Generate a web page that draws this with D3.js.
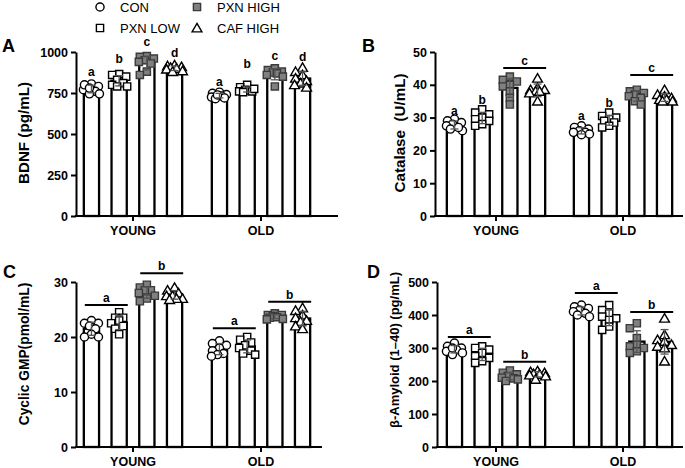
<!DOCTYPE html>
<html><head><meta charset="utf-8">
<script src="https://cdn.jsdelivr.net/npm/d3@7"></script>
<style>
body{margin:0;background:#fff}
svg{display:block}
text{font-family:"Liberation Sans",Arial,sans-serif;fill:#000}
</style>
</head><body>
<svg id="chart" width="685" height="468"></svg>
<script>
// ---------- categories ----------
const ages = ["YOUNG", "OLD"];
const groups = ["CON", "PXN LOW", "PXN HIGH", "CAF HIGH"];

// ---------- tick labels ----------
const ticksA = [0, 250, 500, 750, 1000];
const ticksB = [0, 10, 20, 30, 40, 50];
const ticksC = [0, 10, 20, 30];
const ticksD = [0, 100, 200, 300, 400, 500];

// ---------- series values (individual animals, per group) ----------
// A: BDNF (pg/mL)
const bdnfYoung = [
  [805, 790, 770, 760, 745, 745, 800, 780],
  [865, 860, 850, 830, 810, 800, 790, 790],
  [975, 970, 960, 950, 940, 930, 880, 860],
  [920, 915, 910, 905, 900, 895, 885, 880]
];
const bdnfOld = [
  [755, 748, 740, 732, 725, 720, 715, 738],
  [800, 785, 770, 765, 760, 760, 755, 775],
  [900, 890, 880, 875, 870, 860, 850, 790],
  [905, 880, 860, 840, 825, 810, 800, 785]
];
// B: Catalase (U/mL)
const catYoung = [
  [29.5, 29, 28.5, 28, 27.5, 26.5, 26, 27],
  [32.5, 31.5, 31, 30, 29.5, 29, 28, 27.5],
  [42.5, 41.5, 41, 40, 39.5, 38, 36, 34],
  [42, 39, 38.5, 38.5, 38, 38, 37.5, 35]
];
const catOld = [
  [27.5, 27, 26.5, 26, 25.5, 25.5, 25, 24.8],
  [31.5, 30.5, 30, 29.5, 29, 28.5, 27.5, 27],
  [38.5, 38, 37.5, 37, 36.5, 36, 35, 34],
  [38.5, 37, 36.5, 36, 35.5, 35.5, 35, 35]
];
// C: Cyclic GMP (pmol/mL)
const cgmpYoung = [
  [23, 22.5, 22.5, 22, 21.5, 20.5, 20, 20],
  [24.5, 23.5, 23.5, 23, 22.5, 22, 21.5, 20.5],
  [29.5, 29, 28.5, 28.5, 28, 27.5, 27, 26.5],
  [29, 28.5, 28, 27.5, 27.5, 27, 27, 26.8]
];
const cgmpOld = [
  [19.3, 18.8, 18.5, 18, 17.5, 17, 16.8, 16.5],
  [20, 19.5, 19, 18.5, 18, 17.5, 17, 16.8],
  [24.3, 24, 24, 23.8, 23.6, 23.5, 23.3, 23.2],
  [25.3, 24.8, 24, 23.5, 23, 22.8, 22, 21.5]
];
// D: beta-Amyloid (1-40) (pg/mL)
const abYoung = [
  [315, 305, 300, 295, 290, 285, 280, 300],
  [305, 300, 295, 285, 275, 270, 260, 255],
  [232, 225, 220, 215, 210, 208, 205, 200],
  [230, 228, 225, 222, 220, 218, 215, 205]
];
const abOld = [
  [430, 425, 420, 415, 410, 405, 400, 395],
  [430, 415, 405, 395, 390, 385, 365, 355],
  [375, 360, 330, 310, 305, 300, 290, 285],
  [390, 340, 325, 320, 310, 305, 300, 260]
];

// ---------- significance annotations (letter, level in data units) ----------
const sigLettersA = [["a","b","c","d"], ["a","b","c","d"]];
const sigLevelsA  = [[854, 933, 1037, 970], [790, 905, 951, 945]];
const sigLettersB = [["a","b"], ["a","b"]];
const sigLevelsB  = [[30.8, 34.1], [29.3, 33.2]];
const bracketsB = [["YOUNG", 2, 3, "c", 45.1], ["OLD", 2, 3, "c", 43.0]];
const bracketsC = [["YOUNG", 0, 1, "a", 25.8], ["YOUNG", 2, 3, "b", 31.6],
                   ["OLD", 0, 1, "a", 21.6], ["OLD", 2, 3, "b", 26.4]];
const bracketsD = [["YOUNG", 0, 1, "a", 333], ["YOUNG", 2, 3, "b", 258],
                   ["OLD", 0, 1, "a", 467], ["OLD", 2, 3, "b", 409]];

// ---------- layout ----------
const svg = d3.select("#chart");
const markerStyle = [
  {type: d3.symbolCircle, size: 52, fill: "#fff", stroke: "#000"},
  {type: d3.symbolSquare, size: 52, fill: "#fff", stroke: "#000"},
  {type: d3.symbolSquare, size: 52, fill: "#808080", stroke: "#3a3a3a"},
  {type: d3.symbolTriangle, size: 42, fill: "#fff", stroke: "#000"}
];

const panels = [
  {letter:"A", lx:2, ly:52, young:bdnfYoung, old:bdnfOld, max:1000, ticks:ticksA,
   yTop:52, yBot:216, axX:76, axEnd:338, c0:133, c1:261,
   label:"BDNF (pg/mL)", labX:24, labY:133, labSize:15.2,
   letters:[sigLettersA, sigLevelsA], brackets:[]},
  {letter:"B", lx:362, ly:52, young:catYoung, old:catOld, max:50, ticks:ticksB,
   yTop:52, yBot:216, axX:435, axEnd:683, c0:496, c1:623,
   label:"Catalase  (U/mL)", labX:400, labY:133, labSize:15.2,
   letters:[sigLettersB, sigLevelsB], brackets:bracketsB},
  {letter:"C", lx:3, ly:278, young:cgmpYoung, old:cgmpOld, max:30, ticks:ticksC,
   yTop:282, yBot:447, axX:76, axEnd:322, c0:133, c1:261,
   label:"Cyclic GMP(pmol/mL)", labX:24, labY:354, labSize:13.8,
   letters:null, brackets:bracketsC},
  {letter:"D", lx:367, ly:278, young:abYoung, old:abOld, max:500, ticks:ticksD,
   yTop:282, yBot:447, axX:437, axEnd:683, c0:496, c1:623,
   label:"β-Amyloid (1–40) (pg/mL)", labX:394, labY:350, labSize:13,
   letters:null, brackets:bracketsD}
];

function swarm(vals, y) {
  const order = vals.map((v, i) => i).sort((a, b) => vals[b] - vals[a]);
  const cand = [0, -4, 4, -7, 7, -2, 2, -5, 5, -8, 8];
  const placed = [];
  const off = new Array(vals.length).fill(0);
  order.forEach(i => {
    const py = y(vals[i]);
    let best = 0, bestScore = -Infinity;
    for (const c of cand) {
      let minD = Infinity;
      placed.forEach(p => { minD = Math.min(minD, Math.hypot(p[0] - c, p[1] - py)); });
      if (minD >= 6.5) { best = c; bestScore = Infinity; break; }
      if (minD > bestScore) { bestScore = minD; best = c; }
    }
    off[i] = best;
    placed.push([best, py]);
  });
  return off;
}

panels.forEach(p => {
  const g = svg.append("g");
  const x = d3.scalePoint().domain(ages).range([p.c0, p.c1]);
  const inner = d3.scaleBand().domain(groups).range([-55.4, 55.4])
    .paddingInner(0.45).paddingOuter(0.225);
  const y = d3.scaleLinear().domain([0, p.max]).range([p.yBot, p.yTop]);
  const bw = inner.bandwidth();
  const dataByAge = {YOUNG: p.young, OLD: p.old};

  // bars
  ages.forEach(age => {
    groups.forEach((grp, gi) => {
      const vals = dataByAge[age][gi];
      const m = d3.mean(vals);
      g.append("rect")
        .attr("x", x(age) + inner(grp)).attr("y", y(m))
        .attr("width", bw).attr("height", y(0) - y(m))
        .attr("fill", "#fff").attr("stroke", "#000").attr("stroke-width", 2.3);
    });
  });

  // points
  ages.forEach(age => {
    groups.forEach((grp, gi) => {
      const vals = dataByAge[age][gi];
      const cx = x(age) + inner(grp) + bw / 2;
      const off = swarm(vals, y);
      const ms = markerStyle[gi];
      g.selectAll(null).data(vals).enter().append("path")
        .attr("d", d3.symbol().type(ms.type).size(ms.size))
        .attr("transform", (v, i) => `translate(${cx + off[i]},${y(v) + (gi === 3 ? 1 : 0)})`)
        .attr("fill", ms.fill).attr("stroke", ms.stroke).attr("stroke-width", 1.4);
    });
  });

  // error bars (SD)
  ages.forEach(age => {
    groups.forEach((grp, gi) => {
      const vals = dataByAge[age][gi];
      const m = d3.mean(vals), sd = d3.deviation(vals);
      const cx = x(age) + inner(grp) + bw / 2;
      const eg = g.append("g").attr("stroke", "#555").attr("stroke-width", 1.3);
      eg.append("line").attr("x1", cx).attr("x2", cx).attr("y1", y(m - sd)).attr("y2", y(m + sd));
      [m - sd, m + sd].forEach(v => eg.append("line")
        .attr("x1", cx - 4).attr("x2", cx + 4).attr("y1", y(v)).attr("y2", y(v)));
    });
  });

  // significance letters
  if (p.letters) {
    const [lets, levs] = p.letters;
    ages.forEach((age, ai) => {
      lets[ai].forEach((l, gi) => {
        g.append("text").attr("x", x(age) + inner(groups[gi]) + bw / 2)
          .attr("y", y(levs[ai][gi])).attr("text-anchor", "middle")
          .attr("font-weight", "bold").attr("font-size", 12).text(l);
      });
    });
  }
  // brackets
  p.brackets.forEach(([age, a, b, l, lev]) => {
    const xa = x(age) + inner(groups[a]) + 1;
    const xb = x(age) + inner(groups[b]) + bw + 1;
    const yy = y(lev);
    g.append("line").attr("x1", xa).attr("x2", xb).attr("y1", yy).attr("y2", yy)
      .attr("stroke", "#000").attr("stroke-width", 2);
    g.append("text").attr("x", (xa + xb) / 2).attr("y", yy - 3)
      .attr("text-anchor", "middle").attr("font-weight", "bold").attr("font-size", 12).text(l);
  });

  // y axis
  const ya = g.append("g").attr("transform", `translate(${p.axX},0)`)
    .call(d3.axisLeft(y).tickValues(p.ticks).tickFormat(d3.format("d"))
      .tickSize(5).tickSizeOuter(0).tickPadding(3));
  ya.select(".domain").attr("stroke", "#000").attr("stroke-width", 2);
  ya.selectAll(".tick line").attr("stroke", "#000").attr("stroke-width", 2);
  ya.selectAll(".tick text").attr("font-family", "'Liberation Sans', Arial, sans-serif")
    .attr("font-weight", "bold").attr("font-size", 12.5).attr("fill", "#000");

  // x axis
  g.append("line").attr("x1", p.axX - 1).attr("x2", p.axEnd).attr("y1", p.yBot).attr("y2", p.yBot)
    .attr("stroke", "#000").attr("stroke-width", 2);
  ages.forEach(age => {
    g.append("line").attr("x1", x(age)).attr("x2", x(age)).attr("y1", p.yBot).attr("y2", p.yBot + 5)
      .attr("stroke", "#000").attr("stroke-width", 2);
    g.append("text").attr("x", x(age)).attr("y", p.yBot + 18.5).attr("text-anchor", "middle")
      .attr("font-weight", "bold").attr("font-size", 12.5).text(age);
  });

  // y label
  g.append("text").attr("transform", `translate(${p.labX},${p.labY}) rotate(-90)`)
    .attr("text-anchor", "middle").attr("dy", "0.35em").style("white-space", "pre")
    .attr("font-weight", "bold").attr("font-size", p.labSize).text(p.label);

  // panel letter
  g.append("text").attr("x", p.lx).attr("y", p.ly).attr("font-weight", "bold")
    .attr("font-size", 18).text(p.letter);
});

// ---------- legend ----------
const legPos = [[100, 7], [100, 28], [197, 7], [197, 28]];
groups.forEach((grp, gi) => {
  const ms = markerStyle[gi];
  const [lx, ly] = legPos[gi];
  svg.append("path").attr("d", d3.symbol().type(ms.type).size(ms.size))
    .attr("transform", `translate(${lx},${ly + (gi === 3 ? 1 : 0)})`)
    .attr("fill", ms.fill).attr("stroke", ms.stroke).attr("stroke-width", 1.4);
  svg.append("text").attr("x", lx + 20).attr("y", ly + 4.5)
    .attr("font-size", 13).text(grp);
});
</script>
</body></html>
